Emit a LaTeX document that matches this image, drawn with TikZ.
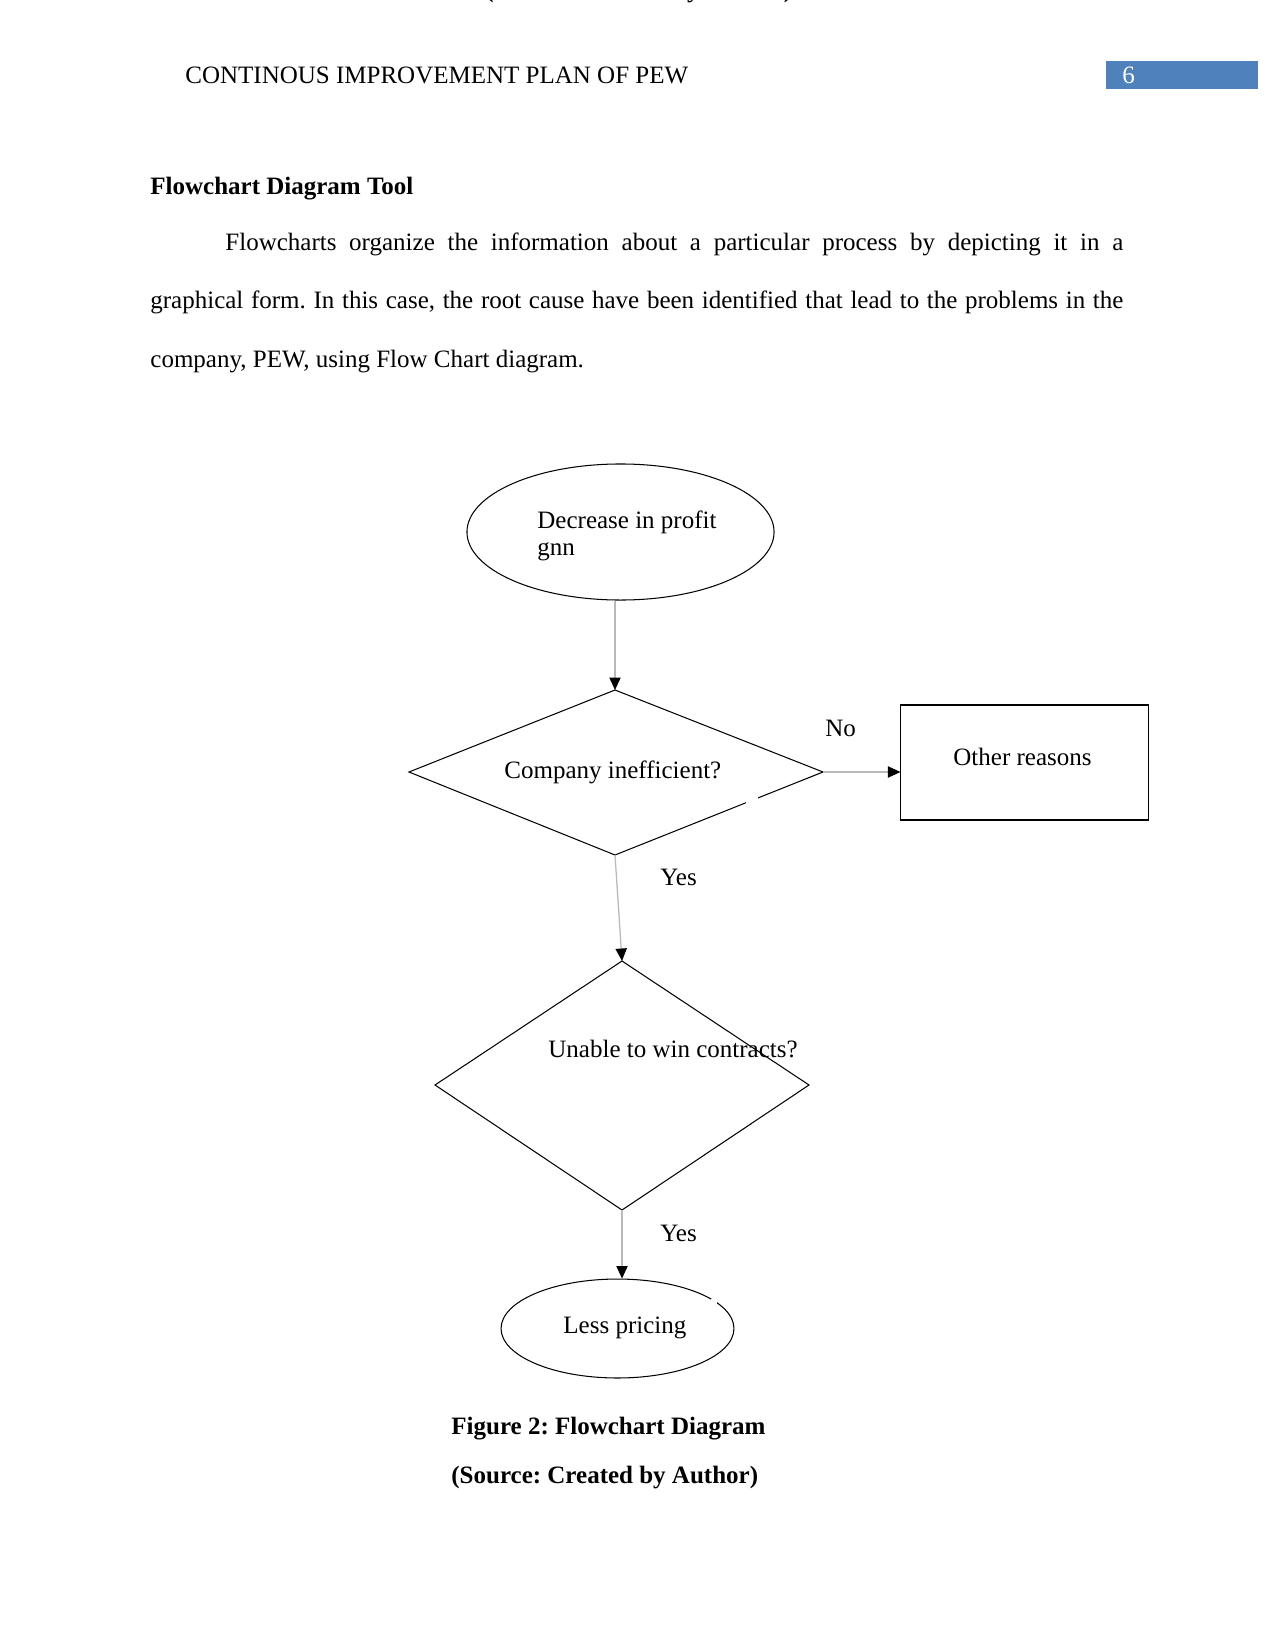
\documentclass[tikz,border=0pt]{standalone}
\usepackage{fontspec}
\setmainfont{Liberation Serif}
\usetikzlibrary{shapes.geometric,arrows.meta}
\definecolor{hdrblue}{HTML}{4F81BD}
\frenchspacing
\begin{document}
\frenchspacing
\begin{tikzpicture}[x=0.48pt,y=-0.48pt,
  txt/.style={anchor=base west,inner sep=0pt,font=\fontsize{12}{14}\selectfont\frenchspacing},
  btxt/.style={anchor=base west,inner sep=0pt,font=\fontsize{12}{14}\selectfont\bfseries\frenchspacing},
  shapeline/.style={draw=black,line width=0.5pt},
  conn/.style={draw=gray!55,line width=0.6pt,-{Triangle[length=6pt,width=5.4pt,color=black]}},
  ellbox/.style={shapeline,ellipse,inner sep=0pt},
  rectbox/.style={shapeline,rectangle,inner sep=0pt},
]
\useasboundingbox (0,0) rectangle (1275,1651);
\fill[white] (0,0) rectangle (1275,1651);

% clipped fragment at page top
\node[btxt] (topfrag) at (485,-2.5) {(Source: Created by Author)};

% header
\node[txt] (hdr) at (185,84) {CONTINOUS IMPROVEMENT PLAN OF PEW};
\fill[hdrblue] (1106,61) rectangle (1258,89);
\node[txt,text=white] (pg) at (1122,84) {6};

% heading and paragraph
\node[btxt] (head) at (150,195) {Flowchart Diagram Tool};
\node[txt] (p1) at (225,251) {\makebox[431pt][s]{Flowcharts organize the information about a particular process by depicting it in a}};
\node[txt] (p2) at (150,309) {\makebox[467pt][s]{graphical form. In this case, the root cause have been identified that lead to the problems in the}};
\node[txt] (p3) at (150,367) {company, PEW, using Flow Chart diagram.};

% ellipse 1
\node[ellbox,minimum width=147.4pt,minimum height=65.3pt] (e1) at (620.5,532) {};
\node[txt] (e1a) at (537,528) {Decrease in profit};
\node[txt] (e1b) at (537,555) {gnn};

% diamond 1
\coordinate (d1t) at (615,690);
\coordinate (d1l) at (409,772);
\coordinate (d1r) at (823,772);
\coordinate (d1b) at (615,855);
\draw[shapeline] (d1t) -- (d1r) -- (d1b) -- (d1l) -- cycle;
\fill[white] (746,788) rectangle (758,812);
\node[txt] (d1txt) at (504,778) {Company inefficient?};

% rectangle
\node[rectbox,minimum width=118.6pt,minimum height=55.2pt] (rb) at (1024.5,762.5) {};
\node[txt] (rbtxt) at (953,765) {Other reasons};

% diamond 2
\coordinate (d2t) at (622,961);
\coordinate (d2l) at (435,1085);
\coordinate (d2r) at (809,1085);
\coordinate (d2b) at (622,1210);
\draw[shapeline] (d2t) -- (d2r) -- (d2b) -- (d2l) -- cycle;
\node[txt] (d2txt) at (548,1057) {Unable to win contracts?};

% ellipse 2
\node[ellbox,minimum width=111.8pt,minimum height=47.5pt] (e2) at (617.5,1328.5) {};
\fill[white] (711,1299) rectangle (717,1308);
\node[txt] (e2txt) at (563,1333) {Less pricing};

% connectors
\draw[conn] (e1.south -| d1t) -- (d1t);
\draw[conn] (d1r) -- (d1r -| rb.west);
\draw[conn] (d1b) -- (d2t);
\draw[conn] (d2b) -- (e2.north -| d2b);

% labels
\node[txt] (lno) at (825,736) {No};
\node[txt] (lyes1) at (660,885) {Yes};
\node[txt] (lyes2) at (660,1241) {Yes};

% caption
\node[btxt] (cap1) at (451,1434) {Figure 2: Flowchart Diagram};
\node[btxt] (cap2) at (451,1483) {(Source: Created by Author)};
\end{tikzpicture}
\end{document}
